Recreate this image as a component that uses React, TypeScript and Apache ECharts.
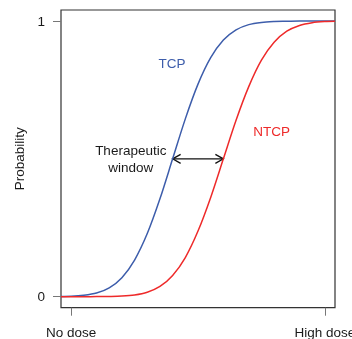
import React, { useEffect, useRef } from "react";
import * as echarts from "echarts";

// Dose axis (relative dose, 0 = no dose, 1 = high dose)
const dose = [
  -0.04, 0, 0.05, 0.1, 0.15, 0.2, 0.25, 0.3, 0.35, 0.4, 0.45, 0.5, 0.55, 0.6,
  0.65, 0.7, 0.75, 0.8, 0.85, 0.9, 0.95, 1, 1.04,
];
// Tumour control probability
const tcp = [
  0.001, 0.0015, 0.005, 0.013, 0.032, 0.069, 0.133, 0.229, 0.355, 0.5, 0.645,
  0.771, 0.867, 0.931, 0.968, 0.987, 0.995, 0.998, 0.999, 1, 1, 1, 1,
];
// Normal tissue complication probability
const ntcp = [
  0, 0, 0, 0.0002, 0.0007, 0.002, 0.006, 0.016, 0.037, 0.077, 0.142, 0.238,
  0.36, 0.5, 0.64, 0.762, 0.858, 0.923, 0.963, 0.984, 0.994, 0.998, 0.999,
];

const xTickValues = [0, 1];
const xTickLabels = ["No dose", "High dose"];
const yTickValues = [0, 1];
const yTickLabels = ["0", "1"];

// Therapeutic window: from TCP = 0.5 to NTCP = 0.5
const windowStart = 0.4;
const windowEnd = 0.6;
const windowLevel = 0.5;

const BLUE = "#3d5dab";
const RED = "#ee2a2a";
const FONT = "'Liberation Sans', Arial, Helvetica, sans-serif";

export default function App() {
  const ref = useRef<HTMLDivElement>(null);

  useEffect(() => {
    if (!ref.current) return;
    const chart = echarts.init(ref.current, undefined, { renderer: "svg" });

    chart.setOption({
      animation: false,
      grid: {
        left: 61,
        top: 10,
        right: 17,
        bottom: 31.3,
        outerBoundsMode: "none",
        containLabel: false,
        show: true,
        borderColor: "#333",
        borderWidth: 1.2,
        backgroundColor: "transparent",
      },
      xAxis: {
        type: "value",
        min: -0.04,
        max: 1.04,
        splitLine: { show: false },
        axisLine: { show: false, onZero: false },
        axisTick: {
          show: true,
          length: 8,
          customValues: xTickValues,
          lineStyle: { color: "#777", width: 1 },
        },
        axisLabel: {
          customValues: xTickValues,
          margin: 18,
          fontSize: 13.5,
          fontFamily: FONT,
          color: "#1a1a1a",
          hideOverlap: false,
          formatter: (v: number) => xTickLabels[xTickValues.indexOf(v)] ?? "",
        },
      },
      yAxis: {
        type: "value",
        min: -0.04,
        max: 1.04,
        name: "Probability",
        nameLocation: "middle",
        nameGap: 34,
        nameTextStyle: { fontSize: 13.5, fontFamily: FONT, color: "#1a1a1a" },
        splitLine: { show: false },
        axisLine: { show: false, onZero: false },
        axisTick: {
          show: true,
          length: 8,
          customValues: yTickValues,
          lineStyle: { color: "#777", width: 1 },
        },
        axisLabel: {
          customValues: yTickValues,
          margin: 16,
          fontSize: 13.5,
          fontFamily: FONT,
          color: "#1a1a1a",
          formatter: (v: number) => yTickLabels[yTickValues.indexOf(v)] ?? "",
        },
      },
      series: [
        {
          name: "TCP",
          type: "line",
          data: dose.map((d, i) => [d, tcp[i]]),
          smooth: 0.3,
          showSymbol: false,
          lineStyle: { color: BLUE, width: 1.5 },
        },
        {
          name: "NTCP",
          type: "line",
          data: dose.map((d, i) => [d, ntcp[i]]),
          smooth: 0.3,
          showSymbol: false,
          lineStyle: { color: RED, width: 1.5 },
        },
        {
          name: "window",
          type: "custom",
          data: [[windowStart, windowEnd, windowLevel]],
          encode: { x: [0, 1], y: 2 },
          renderItem: (_params: any, api: any) => {
            const a = api.coord([api.value(0), api.value(2)]);
            const b = api.coord([api.value(1), api.value(2)]);
            const len = 8;
            const half = 4.5;
            const style = { stroke: "#111", lineWidth: 1.3, fill: "none" };
            return {
              type: "group",
              children: [
                {
                  type: "line",
                  shape: { x1: a[0], y1: a[1], x2: b[0], y2: b[1] },
                  style,
                },
                {
                  type: "polyline",
                  shape: {
                    points: [
                      [a[0] + len, a[1] - half],
                      [a[0], a[1]],
                      [a[0] + len, a[1] + half],
                    ],
                  },
                  style,
                },
                {
                  type: "polyline",
                  shape: {
                    points: [
                      [b[0] - len, b[1] - half],
                      [b[0], b[1]],
                      [b[0] - len, b[1] + half],
                    ],
                  },
                  style,
                },
              ],
            };
          },
        },
      ],
    });

    // Annotation anchors in data coordinates
    const place = (x: number, y: number) =>
      chart.convertToPixel({ gridIndex: 0 }, [x, y]) as number[];
    const tcpPos = place(0.398, 0.847);
    const ntcpPos = place(0.79, 0.599);
    const winPos = place(0.235, 0.5);

    chart.setOption({
      graphic: [
        {
          type: "text",
          x: tcpPos[0],
          y: tcpPos[1],
          style: {
            text: "TCP",
            fill: BLUE,
            font: `13.5px ${FONT}`,
            align: "center",
            verticalAlign: "middle",
          },
        },
        {
          type: "text",
          x: ntcpPos[0],
          y: ntcpPos[1],
          style: {
            text: "NTCP",
            fill: RED,
            font: `13.5px ${FONT}`,
            align: "center",
            verticalAlign: "middle",
          },
        },
        {
          type: "text",
          x: winPos[0],
          y: winPos[1],
          style: {
            text: "Therapeutic\nwindow",
            fill: "#1a1a1a",
            font: `13.5px ${FONT}`,
            align: "center",
            verticalAlign: "middle",
            lineHeight: 17.5,
          },
        },
      ],
    });

    return () => chart.dispose();
  }, []);

  return (
    <div
      ref={ref}
      style={{ position: "fixed", left: 0, top: 0, width: 352, height: 339 }}
    />
  );
}
